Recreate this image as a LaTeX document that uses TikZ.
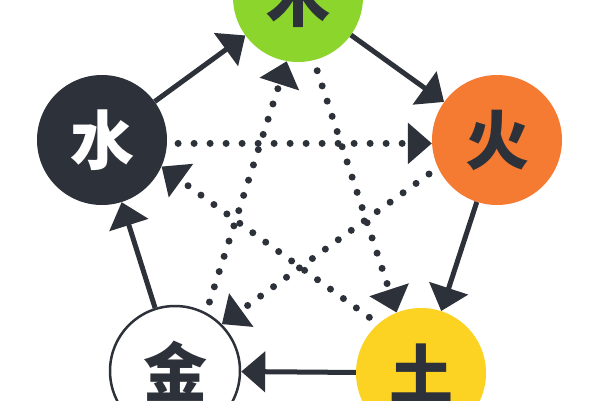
\documentclass[tikz,border=0pt]{standalone}
\usepackage{fontspec}
\newfontfamily\cjk{Noto Sans CJK SC}
\usetikzlibrary{arrows.meta}
\definecolor{ink}{HTML}{2D3139}
\definecolor{wood}{HTML}{8BD52C}
\definecolor{fire}{HTML}{F57A32}
\definecolor{earth}{HTML}{FCD223}
\begin{document}
\begin{tikzpicture}[x=1pt,y=-1pt,
  el/.style={circle,minimum size=130pt,inner sep=0pt,
    font=\cjk\bfseries\fontsize{64}{64}\selectfont},
  tip/.style={-{Triangle[length=24pt,width=40pt]}},
  gen/.style={ink,line width=5pt,tip},
  ctl/.style={ink,line width=7pt,line cap=round,dash pattern=on 0pt off 16pt,
    shorten <=11pt,tip}]
\useasboundingbox (0,0) rectangle (600,400);
\fill[white] (0,0) rectangle (600,400);
\clip (0,0) rectangle (600,400);
\node[el,fill=wood,text=ink]  (mu)   at (298,-3)  {木};
\node[el,fill=fire,text=ink]  (huo)  at (497,140) {火};
\node[el,fill=earth,text=ink] (tu)   at (421,373) {土};
\node[el,fill=white,draw=ink,line width=2.5pt,text=ink] (jin) at (175,371) {金};
\node[el,fill=ink,text=white] (shui) at (102,140) {水};
% generating cycle
\draw[gen] (shui) -- (mu);
\draw[gen] (mu) -- (huo);
\draw[gen] (huo) -- (tu);
\draw[gen] (tu) -- (jin);
\draw[gen] (jin) -- (shui);
% controlling cycle
\draw[ctl] (shui.-3.5) -- (huo.183.5);
\draw[ctl] (huo.205.3) -- (jin.45.9);
\draw[ctl] (jin.62.7) -- (mu.260.9);
\draw[ctl] (mu.284) -- (tu.112);
\draw[ctl] (tu.131.1) -- (shui.336.7);
\end{tikzpicture}
\end{document}
